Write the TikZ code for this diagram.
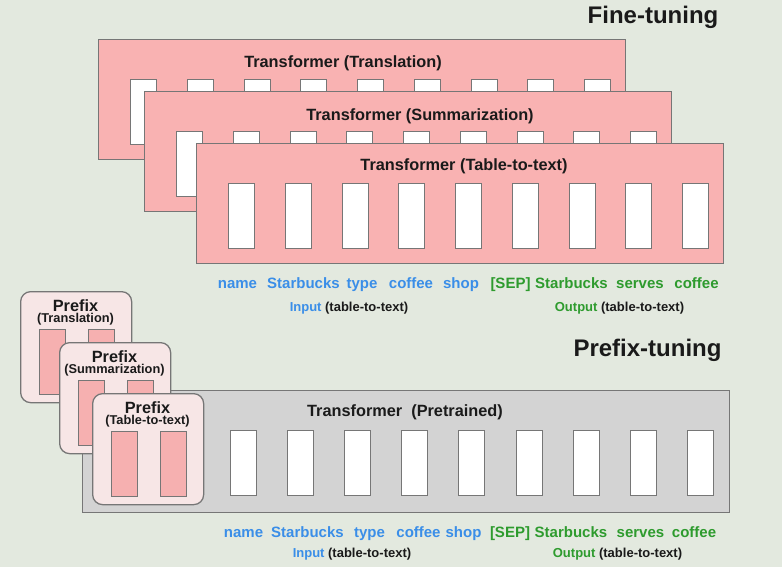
\documentclass[tikz,border=0pt]{standalone}
\usepackage{fontspec}
\setmainfont{Liberation Sans}
\definecolor{bgc}{HTML}{E3E9DF}
\definecolor{pinkc}{HTML}{F9B2B2}
\definecolor{edgec}{HTML}{767676}
\definecolor{pfill}{HTML}{F7E6E6}
\definecolor{pcellc}{HTML}{F6B0B0}
\definecolor{grayc}{HTML}{D3D3D3}
\definecolor{bluec}{HTML}{3A8EE8}
\definecolor{greenc}{HTML}{2E9B2E}
\definecolor{inkc}{HTML}{1A1A1A}
\begin{document}
\begin{tikzpicture}[x=1pt,y=-1pt,
  tbox/.style={draw=edgec,fill=pinkc,line width=1.3pt,inner sep=0pt,minimum width=527pt,minimum height=120pt,anchor=north west},
  gbox/.style={draw=edgec,fill=grayc,line width=1.3pt,inner sep=0pt,minimum width=647pt,minimum height=122pt,anchor=north west},
  cell/.style={draw=edgec,fill=white,line width=1pt,inner sep=0pt,minimum width=26pt,minimum height=65pt,anchor=north west},
  pbox/.style={draw=edgec,fill=pfill,line width=1.3pt,rounded corners=10pt,inner sep=0pt,minimum width=111pt,minimum height=111pt,anchor=north west},
  pcell/.style={draw=edgec,fill=pcellc,line width=1pt,inner sep=0pt,minimum width=26pt,minimum height=65pt,anchor=north west},
  ttitle/.style={text=inkc,inner sep=0pt,anchor=base,font=\fontsize{16.3}{18}\selectfont\bfseries},
  pstack/.style={text=inkc,inner sep=0pt,anchor=north,align=center,font=\fontsize{16.3}{11.8}\selectfont\bfseries},
  heading/.style={text=inkc,inner sep=0pt,anchor=base,font=\fontsize{24}{28}\selectfont\bfseries},
  word/.style={inner sep=0pt,anchor=base,font=\fontsize{15}{17}\selectfont\bfseries},
  lab/.style={inner sep=0pt,anchor=base,font=\fontsize{13}{15}\selectfont\bfseries}]
\fill[bgc] (0,0) rectangle (782,567);
\useasboundingbox (0,0) rectangle (782,567);

% Fine-tuning
\node[heading] (fth) at (653,23.5) {Fine-tuning};
\foreach \k/\L/\T/\ttl/\tx/\ty in {1/98/39/Translation/343/68, 2/144/91/Summarization/420/121, 3/196/143/Table-to-text/464/171} {
  \node[tbox] (ft\k) at (\L,\T) {};
  \foreach \i in {0,...,8}
    \node[cell] (ft\k c\i) at ({\L+32+56.75*\i},{\T+40}) {};
  \node[ttitle] (ft\k t) at (\tx,\ty) {Transformer (\ttl)};
}

% words (fine-tuning)
\foreach \n/\x/\w/\c in {1/237.5/name/bluec, 2/303.5/Starbucks/bluec, 3/362/type/bluec, 4/411/coffee/bluec, 5/461/shop/bluec, 6/510.5/{[SEP]}/greenc, 7/571.5/Starbucks/greenc, 8/640/serves/greenc, 9/696.5/coffee/greenc}
  \node[word,text=\c] (fw\n) at (\x,288.5) {\w};
\node[lab] (fin) at (349,311.5) {\textcolor{bluec}{Input} \textcolor{inkc}{(table-to-text)}};
\node[lab] (fout) at (619.5,311.5) {\textcolor{greenc}{Output} \textcolor{inkc}{(table-to-text)}};

% Prefix-tuning
\node[heading] (pth) at (647.5,356.5) {Prefix-tuning};
\node[gbox] (pt) at (82,390) {};
\foreach \i in {0,...,8}
  \node[cell] (ptc\i) at ({230+57.1*\i},430) {};
\node[ttitle] (ptt) at (405,416) {Transformer\ \ (Pretrained)};

\foreach \k/\L/\T/\ttl in {1/20/291/Translation, 2/59/342/Summarization, 3/92/393/Table-to-text} {
  \node[pbox] (pf\k) at (\L,\T) {};
  \node[pcell] (pf\k a) at ({\L+19},{\T+38}) {};
  \node[pcell] (pf\k b) at ({\L+68},{\T+38}) {};
  \node[pstack] (pf\k t) at ({\L+55.5},{\T+8}) {Prefix\\{\fontsize{12.8}{11.8}\selectfont (\ttl)}};
}

% words (prefix-tuning)
\foreach \n/\x/\w/\c in {1/243.5/name/bluec, 2/307.5/Starbucks/bluec, 3/369.5/type/bluec, 4/418.5/coffee/bluec, 5/463.5/shop/bluec, 6/510/{[SEP]}/greenc, 7/571/Starbucks/greenc, 8/640.5/serves/greenc, 9/694/coffee/greenc}
  \node[word,text=\c] (pw\n) at (\x,537.5) {\w};
\node[lab] (pin) at (352,557.5) {\textcolor{bluec}{Input} \textcolor{inkc}{(table-to-text)}};
\node[lab] (pout) at (617.5,557.5) {\textcolor{greenc}{Output} \textcolor{inkc}{(table-to-text)}};
\end{tikzpicture}
\end{document}
